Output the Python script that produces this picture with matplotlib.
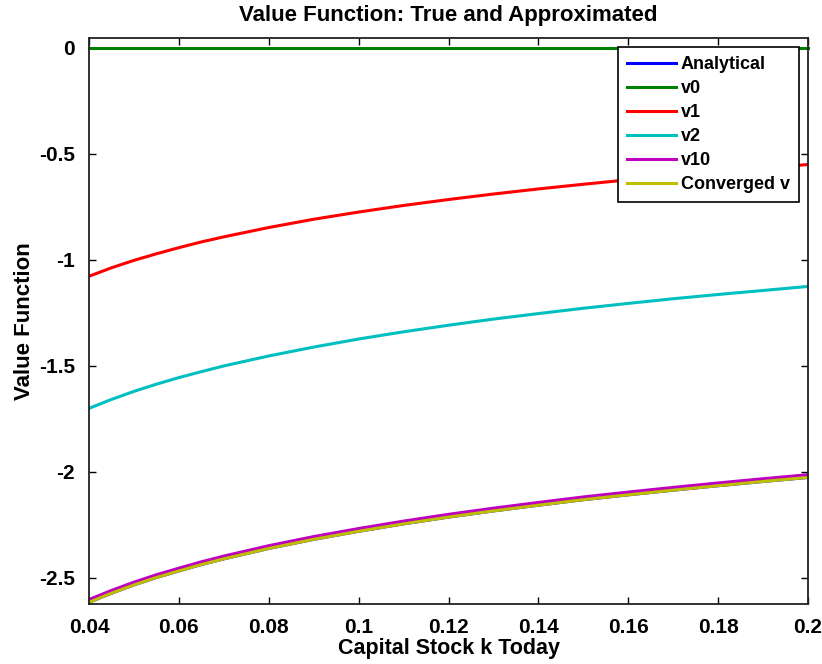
import matplotlib
matplotlib.use('Agg')
import matplotlib.pyplot as plt

# capital grid
k = [0.04, 0.045, 0.05, 0.055, 0.06, 0.065, 0.07, 0.08, 0.09, 0.10, 0.11, 0.12,
     0.13, 0.14, 0.15, 0.16, 0.17, 0.18, 0.19, 0.20]

v0 = [0.0] * len(k)
v1 = [-1.077, -1.037, -1.002, -0.971, -0.942, -0.915, -0.891, -0.847, -0.808,
      -0.774, -0.743, -0.715, -0.689, -0.665, -0.643, -0.622, -0.602, -0.584,
      -0.566, -0.550]
v2 = [-1.700, -1.658, -1.620, -1.586, -1.555, -1.527, -1.500, -1.453, -1.411,
      -1.373, -1.339, -1.308, -1.279, -1.253, -1.228, -1.205, -1.183, -1.163,
      -1.144, -1.125]
v10 = [-2.602, -2.559, -2.520, -2.485, -2.454, -2.424, -2.397, -2.348, -2.305,
       -2.267, -2.232, -2.200, -2.171, -2.144, -2.118, -2.095, -2.073, -2.052,
       -2.032, -2.013]
v_conv = [-2.615, -2.572, -2.533, -2.498, -2.467, -2.437, -2.410, -2.361, -2.318,
          -2.280, -2.245, -2.213, -2.184, -2.157, -2.131, -2.108, -2.086, -2.065,
          -2.045, -2.026]
v_true = [-2.615, -2.572, -2.533, -2.498, -2.467, -2.437, -2.410, -2.361, -2.318,
          -2.280, -2.245, -2.213, -2.184, -2.157, -2.131, -2.108, -2.086, -2.065,
          -2.045, -2.026]

series = [('Analytical', v_true, (0, 0, 1)),
          ('v0', v0, (0, 0.5, 0)),
          ('v1', v1, (1, 0, 0)),
          ('v2', v2, (0, 0.75, 0.75)),
          ('v10', v10, (0.75, 0, 0.75)),
          ('Converged v', v_conv, (0.75, 0.75, 0))]

xticks = [0.04, 0.06, 0.08, 0.1, 0.12, 0.14, 0.16, 0.18, 0.2]
xticklabels = ['0.04', '0.06', '0.08', '0.1', '0.12', '0.14', '0.16', '0.18', '0.2']
yticks = [-2.5, -2, -1.5, -1, -0.5, 0]
yticklabels = ['-2.5', '-2', '-1.5', '-1', '-0.5', '0']

plt.rcParams['font.family'] = ['Liberation Sans', 'DejaVu Sans']
plt.rcParams['font.weight'] = 'bold'

fig = plt.figure(figsize=(8.22, 6.64), dpi=100)
ax = fig.add_axes([89/822, 1-604/664, (808-89)/822, (604-38)/664])

for lab, y, c in series:
    ax.plot(k, y, color=c, lw=2.2, label=lab, clip_on=False if lab == 'v0' else True)

ax.set_xlim(0.04, 0.2)
ax.set_ylim(-2.623, 0.047)
ax.set_xticks(xticks)
ax.set_xticklabels(xticklabels)
ax.set_yticks(yticks)
ax.set_yticklabels(yticklabels)
ax.tick_params(axis='both', direction='in', length=5, width=1, top=True, right=True,
               labelsize=15)
ax.tick_params(axis='x', pad=10)
ax.tick_params(axis='y', pad=10)
for s in ax.spines.values():
    s.set_linewidth(1.3)
    s.set_color('#222222')

ax.set_title('Value Function: True and Approximated', fontsize=16, fontweight='bold', pad=12)
ax.set_xlabel('Capital Stock k Today', fontsize=15.5, fontweight='bold', labelpad=1)
ax.set_ylabel('Value Function', fontsize=16, fontweight='bold', labelpad=3)

leg = ax.legend(loc='upper right', fontsize=13, fancybox=False, framealpha=1,
                edgecolor='black', handlelength=2.7, labelspacing=0.39,
                borderaxespad=0.5, handletextpad=0.3, borderpad=0.5)
leg.get_frame().set_linewidth(1.2)
for t in leg.get_texts():
    t.set_fontweight('bold')

fig.savefig('out.png', dpi=100)
